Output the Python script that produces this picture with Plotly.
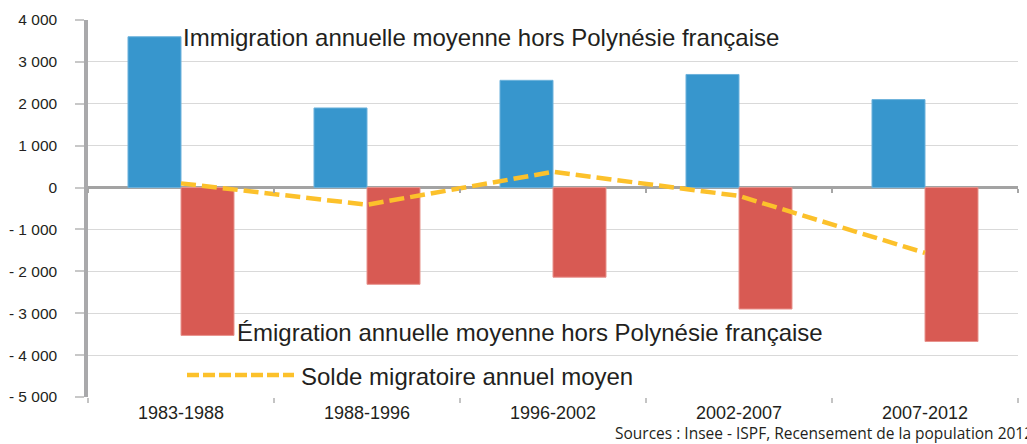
import plotly.graph_objects as go

periods = ["1983-1988", "1988-1996", "1996-2002", "2002-2007", "2007-2012"]
immigration = [3600, 1900, 2560, 2700, 2100]
emigration = [-3530, -2310, -2140, -2900, -3675]
solde = [100, -410, 375, -200, -1560]

y_ticks = [4000, 3000, 2000, 1000, 0, -1000, -2000, -3000, -4000, -5000]
y_labels = ["4 000", "3 000", "2 000", "1 000", "0", "- 1 000", "- 2 000",
            "- 3 000", "- 4 000", "- 5 000"]

name_imm = "Immigration annuelle moyenne hors Polynésie française"
name_emi = "Émigration annuelle moyenne hors Polynésie française"
name_sol = "Solde migratoire annuel moyen"
source = "Sources : Insee - ISPF, Recensement de la population 2012"

W, H = 1027, 444
ML, MR, MT, MB = 88, 9, 20, 47

def px(x):
    return (x - ML) / (W - ML - MR)

def py(y):
    return 1 - (y - MT) / (H - MT - MB)

BLUE = "#3796CD"
RED = "#D85A53"
YEL = "#FCC12B"
FONT = "Liberation Sans, Arial, sans-serif"
TXT = "#231f20"

fig = go.Figure()
fig.add_trace(go.Bar(x=periods, y=immigration, name=name_imm,
                     marker=dict(color=BLUE, line=dict(color="#6db2dc", width=1))))
fig.add_trace(go.Bar(x=periods, y=emigration, name=name_emi,
                     marker=dict(color=RED, line=dict(color="#e8938d", width=1))))
fig.add_trace(go.Scatter(x=periods, y=solde, name=name_sol, mode="lines",
                         xaxis="x2",
                         line=dict(color=YEL, width=4.5, dash="15px,6px")))

zero_pos = 5000 / 9000
xr = [-0.5, len(periods) - 0.5]

fig.update_layout(
    width=W, height=H,
    margin=dict(l=ML, r=MR, t=MT, b=MB),
    paper_bgcolor="white", plot_bgcolor="white",
    showlegend=False,
    barmode="group",
    bargap=0.43,
    font=dict(family=FONT, color=TXT),
    xaxis=dict(type="category", categoryorder="array", categoryarray=periods,
               range=xr, autorange=False,
               tickson="boundaries", ticks="outside", ticklen=5, tickwidth=2,
               tickcolor="#c4c4c4", showline=False, showgrid=False,
               ticklabelstandoff=3,
               tickfont=dict(size=18, family=FONT, color=TXT)),
    xaxis2=dict(type="category", categoryorder="array", categoryarray=periods,
                range=xr, autorange=False,
                overlaying="x", anchor="free", position=zero_pos,
                tickson="boundaries", ticks="outside", ticklen=4, tickwidth=2,
                tickcolor="#a6a6a6", showline=False, showgrid=False,
                showticklabels=False),
    yaxis=dict(range=[-5000, 4000], tickvals=y_ticks, ticktext=y_labels,
               showgrid=True, gridcolor="#d9d9d9", gridwidth=1.3,
               zeroline=True, zerolinecolor="#a3a3a3", zerolinewidth=2.5,
               showline=True, linecolor="#a9a9ab", linewidth=3.5,
               ticks="outside", ticklen=9, tickcolor="#c8c8c8", tickwidth=1.5,
               ticklabelstandoff=15,
               tickfont=dict(size=15.5, family=FONT, color=TXT)),
)

fig.add_annotation(text=name_imm, xref="paper", yref="paper",
                   x=px(181), y=py(38), xanchor="left", yanchor="middle",
                   showarrow=False, font=dict(size=24, family=FONT, color=TXT))
fig.add_annotation(text=name_emi, xref="paper", yref="paper",
                   x=px(235), y=py(332), xanchor="left", yanchor="middle",
                   showarrow=False, font=dict(size=24, family=FONT, color=TXT))
fig.add_annotation(text=name_sol, xref="paper", yref="paper",
                   x=px(299), y=py(376), xanchor="left", yanchor="middle",
                   showarrow=False, font=dict(size=24, family=FONT, color=TXT))
fig.add_shape(type="line", xref="paper", yref="paper",
              x0=px(187), x1=px(294), y0=py(375), y1=py(375),
              line=dict(color=YEL, width=4.5, dash="12px,4px"))
fig.add_annotation(text=source, xref="paper", yref="paper",
                   x=px(613), y=py(432.5), xanchor="left", yanchor="middle",
                   showarrow=False,
                   font=dict(size=15.5, family="Open Sans", color=TXT))

fig.write_html("out.html",
               config={"displayModeBar": False},
               post_script="document.body.style.margin='0';document.body.style.overflow='hidden';")
